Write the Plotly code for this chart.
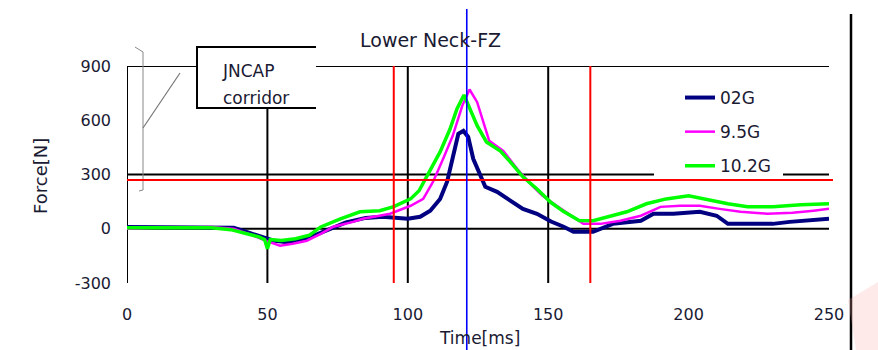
import plotly.graph_objects as go

# ---- data ----
t_02g = [0, 10, 20, 30, 38, 42, 47, 52, 57, 62, 67, 72, 78, 85, 91, 100, 104.4, 108, 111.5, 114, 116, 118,
         119.8, 121.5, 123.3, 125.8, 127.6, 131.8, 136.5, 141, 146, 151, 155.5, 159, 166, 173, 183, 187.5,
         194.6, 204, 210, 214, 218.5, 230, 236, 242, 250]
f_02g = [10, 10, 5, 5, 5, -15, -40, -65, -75, -65, -35, -5, 35, 60, 66, 55, 66, 100, 165, 260, 403, 525,
         541, 508, 387, 293, 232, 204, 155, 110, 83, 40, 11, -17, -17, 27, 44, 83,
         83, 94, 72, 27, 27, 27, 38, 44, 55]

t_95g = [0, 10, 20, 30, 38, 45, 50, 54.5, 59, 64, 69, 73.5, 80.5, 84, 93.7, 101, 105.5, 109, 112.6, 116,
         119.4, 122, 124.7, 127, 129, 134, 139, 143.6, 148, 153, 158, 162.5, 168.6, 175.7, 183, 190, 197,
         204, 211, 218.5, 228, 237, 244.5, 250]
f_95g = [0, 5, 5, 10, 0, -38, -70, -94, -83, -66, -28, 11, 38, 55, 83, 127, 165, 260, 387, 514,
         680, 770, 700, 590, 486, 430, 330, 250, 182, 127, 72, 27, 27, 44, 72, 121, 127,
         127, 110, 94, 83, 88, 100, 110]

t_102g = [0, 10, 20, 30, 37, 42, 47, 49, 50, 51, 55, 60, 65, 69, 76, 83, 90, 95, 101, 104, 108, 111.5,
          115, 117.5, 120, 122, 124.7, 128, 133, 136.5, 141, 146, 151, 155.5, 161, 166, 171, 178, 185,
          192, 200, 207, 214, 221, 230, 240, 250]
f_102g = [5, 5, 5, 5, -5, -25, -45, -60, -110, -60, -65, -55, -35, 10, 55, 94, 100, 122, 165, 210, 330, 425,
          550, 663, 740, 663, 570, 480, 430, 370, 287, 220, 145, 95, 45, 44, 66, 94, 138,
          165, 182, 160, 138, 122, 122, 133, 138]

series_names = ["02G", "9.5G", "10.2G"]
x_ticks = [0, 50, 100, 150, 200, 250]
y_ticks = [-300, 0, 300, 600, 900]
y_ticktext = ["-300", "0", "300", "600", "900"]

corridor_t = [95, 165]      # red vertical corridor lines [ms]
corridor_f = 270            # red horizontal limit [N]
peak_t = 121                # blue marker line [ms]

FONT = "DejaVu Sans"
TXT = "#1a1a33"

# plot-area geometry (pixels) for decorations outside the axes
L, R, T, B = 127, 49, 66, 67
W, H = 878 - L - R, 350 - T - B


def P(px, py):
    return (px - L) / W, (350 - B - py) / H


fig = go.Figure()
fig.add_trace(go.Scatter(x=t_02g, y=f_02g, name=series_names[0], mode="lines",
                         line=dict(color="#000080", width=4), legendgroup="a"))
fig.add_trace(go.Scatter(x=t_95g, y=f_95g, name=series_names[1], mode="lines",
                         line=dict(color="#ff00ff", width=2.5), legendgroup="b"))
fig.add_trace(go.Scatter(x=t_102g, y=f_102g, name=series_names[2], mode="lines",
                         line=dict(color="#00ff00", width=3.5), legendgroup="c"))

shapes = []
blk = dict(color="black", width=2)
# horizontal black grid lines
shapes.append(dict(type="line", xref="x", yref="y", x0=0, x1=250, y0=900, y1=900, line=blk, layer="below"))
leg_l = (654 - L) / W * 250
leg_r = (783 - L) / W * 250
shapes.append(dict(type="line", xref="x", yref="y", x0=0, x1=leg_l, y0=300, y1=300, line=blk, layer="below"))
shapes.append(dict(type="line", xref="x", yref="y", x0=leg_r, x1=250, y0=300, y1=300, line=blk, layer="below"))
shapes.append(dict(type="line", xref="x", yref="y", x0=0, x1=250, y0=0, y1=0, line=blk, layer="below"))
# vertical black grid lines
for xv in [0, 100, 150]:
    shapes.append(dict(type="line", xref="x", yref="y", x0=xv, x1=xv, y0=-300, y1=900, line=blk, layer="below"))
box_bottom_f = 900 - (108 - T) / H * 1200
shapes.append(dict(type="line", xref="x", yref="y", x0=50, x1=50, y0=-300, y1=box_bottom_f, line=blk, layer="below"))

# JNCAP corridor box (open on the right), covering the 900 line
x0b, y0b = P(197, 47)
x1b, y1b = P(316, 108)
shapes.append(dict(type="rect", xref="paper", yref="paper", x0=x0b, x1=x1b, y0=y1b, y1=y0b,
                   fillcolor="white", line=dict(width=0), layer="above"))
shapes.append(dict(type="path", xref="paper", yref="paper",
                   path=f"M{x1b},{y0b} L{x0b},{y0b} L{x0b},{y1b} L{x1b},{y1b}",
                   line=blk, layer="above"))

# thin grey bracket and leader line
a = P(135, 47); b = P(143, 52); c = P(143, 190); d = P(139, 191)
shapes.append(dict(type="path", xref="paper", yref="paper",
                   path=f"M{a[0]},{a[1]} L{b[0]},{b[1]} L{c[0]},{c[1]} L{d[0]},{d[1]}",
                   line=dict(color="#888888", width=1), layer="above"))
e = P(143, 128); f = P(180, 73)
shapes.append(dict(type="line", xref="paper", yref="paper", x0=e[0], y0=e[1], x1=f[0], y1=f[1],
                   line=dict(color="#777777", width=1.2), layer="above"))

# red corridor lines
red = dict(color="#ff0000", width=2)
for xv in corridor_t:
    shapes.append(dict(type="line", xref="x", yref="y", x0=xv, x1=xv, y0=-300, y1=900, line=red, layer="above"))
shapes.append(dict(type="line", xref="paper", yref="y", x0=0, x1=P(833, 0)[0], y0=corridor_f, y1=corridor_f,
                   line=red, layer="above"))

# blue marker line through the whole picture
bx = peak_t / 250
shapes.append(dict(type="line", xref="paper", yref="paper", x0=bx, x1=bx, y0=P(0, 9)[1], y1=P(0, 350)[1],
                   line=dict(color="#0000ff", width=1.6), layer="above"))

# right frame line
fx = P(851, 0)[0]
shapes.append(dict(type="line", xref="paper", yref="paper", x0=fx, x1=fx, y0=P(0, 14)[1], y1=P(0, 350)[1],
                   line=dict(color="black", width=2.5), layer="above"))

# faint pink smudge bottom right
p1 = P(848, 300); p2 = P(878, 282); p3 = P(878, 350); p4 = P(856, 350)
shapes.append(dict(type="path", xref="paper", yref="paper",
                   path=f"M{p1[0]},{p1[1]} L{p2[0]},{p2[1]} L{p3[0]},{p3[1]} L{p4[0]},{p4[1]} Z",
                   fillcolor="rgba(255,170,170,0.25)", line=dict(width=0), layer="above"))

annotations = []
tx, ty = P(430, 40)
annotations.append(dict(text="Lower Neck-FZ", x=tx, y=ty, xref="paper", yref="paper", showarrow=False,
                        xanchor="center", yanchor="middle", font=dict(family=FONT, size=19, color=TXT)))
tx, ty = P(480, 338)
annotations.append(dict(text="Time[ms]", x=tx, y=ty, xref="paper", yref="paper", showarrow=False,
                        xanchor="center", yanchor="middle", font=dict(family=FONT, size=17, color=TXT)))
tx, ty = P(40, 176)
annotations.append(dict(text="Force[N]", x=tx, y=ty, xref="paper", yref="paper", showarrow=False,
                        textangle=-90, xanchor="center", yanchor="middle",
                        font=dict(family=FONT, size=18, color=TXT)))
tx, ty = P(220, 71)
annotations.append(dict(text="JNCAP", x=tx, y=ty, xref="paper", yref="paper", showarrow=False,
                        xanchor="left", yanchor="middle", font=dict(family=FONT, size=17, color=TXT)))
tx, ty = P(221, 98)
annotations.append(dict(text="corridor", x=tx, y=ty, xref="paper", yref="paper", showarrow=False,
                        xanchor="left", yanchor="middle", font=dict(family=FONT, size=17, color=TXT)))

lgx, lgy = P(680, 80)
fig.update_layout(
    width=878, height=350,
    margin=dict(l=L, r=R, t=T, b=B, pad=0),
    paper_bgcolor="white", plot_bgcolor="white",
    showlegend=True,
    legend=dict(x=lgx, y=lgy, xanchor="left", yanchor="top", bgcolor="rgba(0,0,0,0)", borderwidth=0,
                font=dict(family=FONT, size=17, color=TXT), tracegroupgap=9),
    xaxis=dict(range=[0, 250], showgrid=False, zeroline=False, showline=False, ticks="",
               tickvals=x_ticks, ticktext=[str(v) for v in x_ticks], ticklabelstandoff=20,
               tickfont=dict(family=FONT, size=16, color=TXT), fixedrange=True),
    yaxis=dict(range=[-300, 900], showgrid=False, zeroline=False, showline=False, ticks="",
               tickvals=y_ticks, ticktext=y_ticktext, ticklabelstandoff=15,
               tickfont=dict(family=FONT, size=16, color=TXT), fixedrange=True),
    shapes=shapes, annotations=annotations,
)
fig.write_html("out.html")
